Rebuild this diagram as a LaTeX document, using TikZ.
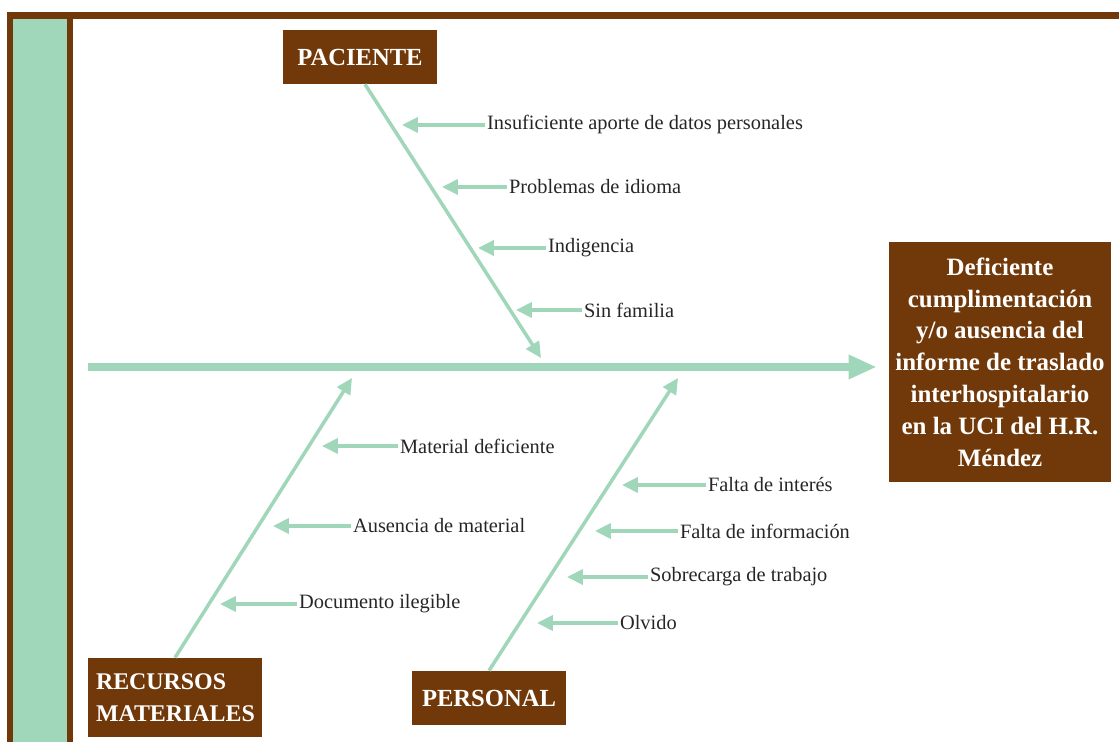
\documentclass[tikz,border=0pt]{standalone}
\usepackage{fontspec}
\setmainfont{Liberation Serif}
\usepackage{xcolor}
\usetikzlibrary{arrows.meta,positioning,calc}
\definecolor{marron}{RGB}{113,57,9}
\definecolor{verde}{RGB}{160,214,186}
\tikzset{
  caja/.style={fill=marron, text=white, inner sep=0pt,
               font=\bfseries\fontsize{14}{18.1}\selectfont},
  causa/.style={anchor=west, inner sep=1pt, text=black!85,
                font=\fontsize{11.6}{13}\selectfont},
  flecha/.style={draw=verde, line width=2pt,
                 -{Triangle[length=9pt,width=8.5pt]}},
  hueso/.style={flecha},
  espina/.style={draw=verde, line width=4pt,
                 -{Triangle[length=16pt,width=13pt]}}
}
\begin{document}
\begin{tikzpicture}[x=0.02cm,y=-0.02cm]
  \useasboundingbox (0,0) rectangle (1119,742);

  % marco
  \fill[marron] (7,12) rectangle (1119,19);
  \fill[marron] (7,12) rectangle (73,742);
  \fill[verde] (13,19) rectangle (67,742);

  % cajas
  \node[caja, minimum width=3.08cm, minimum height=1.08cm] (pac) at (360,57) {PACIENTE};
  \node[caja, minimum width=3.48cm, minimum height=1.58cm, text width=3.16cm,
        align=left, inner xsep=0.16cm, font=\bfseries\fontsize{13.6}{18.1}\selectfont]
        (rec) at (175,697.5) {RECURSOS\\MATERIALES};
  \node[caja, minimum width=3.08cm, minimum height=1.08cm] (per) at (489,698) {PERSONAL};
  \node[caja, minimum width=4.44cm, minimum height=4.8cm, align=center,
        font=\bfseries\fontsize{14.2}{18.1}\selectfont] (efe) at (1000,362)
        {Deficiente\\cumplimentación\\y/o ausencia del\\informe de traslado\\interhospitalario\\en la UCI del H.R.\\Méndez};

  % espina y huesos
  \coordinate (cola) at (88,367);
  \coordinate (pt) at (541,358);
  \coordinate (rt) at (352,378);
  \coordinate (et) at (678,378);
  \draw[espina] (cola) -- ([xshift=-0.24cm]cola -| efe.west);
  \draw[hueso] ([xshift=0.1cm]pac.south) -- (pt);
  \draw[hueso] (rec.north) -- (rt);
  \draw[hueso] (per.north) -- (et);

  \foreach \t/\x/\y/\l [count=\i] in {
    Insuficiente aporte de datos personales/485/125/83,
    Problemas de idioma/507/187/65,
    Indigencia/546/248/68,
    Sin familia/582/310/66,
    Material deficiente/398/446/76,
    Ausencia de material/351/526/78,
    Documento ilegible/297/604/77,
    Falta de interés/706/485/84,
    Falta de información/678/531/83,
    Sobrecarga de trabajo/648/577/81,
    Olvido/618/623/81}{
    \node[causa] (c\i) at (\x,\y) {\t};
    \draw[flecha] (c\i.west) -- ++(-\l,0);
  }
\end{tikzpicture}
\end{document}
